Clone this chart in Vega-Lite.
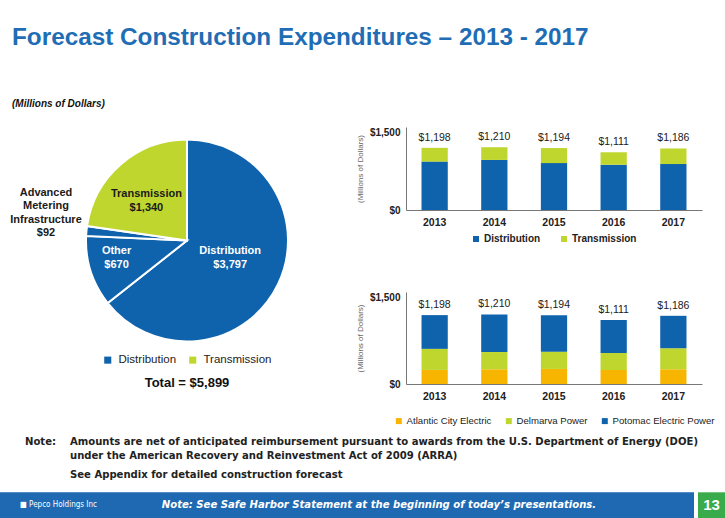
{
  "$schema": "https://vega.github.io/schema/vega-lite/v6.json",
  "padding": {"left": 0, "top": 25, "right": 0, "bottom": 0},
  "bounds": "flush",
  "background": "white",
  "config": {
    "font": "Liberation Sans",
    "view": {"stroke": null},
    "axis": {"labelColor": "#222", "domainColor": "#777", "ticks": false, "grid": false},
    "legend": {"labelColor": "#222", "symbolType": "square", "symbolStrokeWidth": 0, "layout": {"bottom": {"anchor": "middle"}}}
  },
  "title": {
    "text": "Forecast Construction Expenditures – 2013 - 2017",
    "anchor": "start",
    "frame": "group",
    "dx": 12,
    "fontSize": 24.3,
    "font": "Liberation Sans",
    "fontWeight": "bold",
    "color": "#1f6db4",
    "offset": 49.5
  },
  "resolve": {"scale": {"color": "independent"}, "legend": {"color": "independent"}},
  "vconcat": [
    {
      "bounds": "flush",
      "resolve": {"scale": {"color": "independent"}, "legend": {"color": "independent"}},
      "hconcat": [
        {
          "width": 374,
          "height": 227,
          "title": {
            "text": "(Millions  of Dollars)",
            "anchor": "start",
            "frame": "group",
            "dx": 12,
            "fontSize": 10,
            "fontStyle": "italic",
            "fontWeight": "bold",
            "color": "#111",
            "offset": 17.7
          },
          "data": {"values": [
            {"segment": "Distribution", "group": "Distribution", "amount": 3797, "idx": 1, "label": "Distribution\n$3,797"},
            {"segment": "Other", "group": "Distribution", "amount": 670, "idx": 2, "label": "Other\n$670"},
            {"segment": "AMI", "group": "Distribution", "amount": 92, "idx": 3, "label": "Advanced\nMetering\nInfrastructure\n$92"},
            {"segment": "Transmission", "group": "Transmission", "amount": 1340, "idx": 4, "label": "Transmission\n$1,340"}
          ]},
          "encoding": {
            "theta": {"field": "amount", "type": "quantitative", "stack": true},
            "order": {"field": "idx", "type": "quantitative"}
          },
          "layer": [
            {
              "mark": {"type": "arc", "outerRadius": 101, "stroke": "white", "strokeWidth": 2},
              "encoding": {
                "color": {
                  "field": "group", "type": "nominal",
                  "scale": {"domain": ["Distribution", "Transmission"], "range": ["#0f63ad", "#bfd62f"]},
                  "legend": {
                    "orient": "bottom", "direction": "horizontal", "offset": 0,
                    "title": "Total = $5,899", "titleOrient": "bottom", "titleAnchor": "middle",
                    "titleFontSize": 13, "titleFontWeight": "bold", "titleColor": "#111", "titlePadding": 11,
                    "labelFontSize": 11.5, "labelOffset": 5, "symbolSize": 50, "columnPadding": 10
                  }
                }
              }
            },
            {
              "mark": {"type": "text", "radius": 48, "dy": -10, "fontSize": 11, "fontWeight": "bold", "color": "white", "lineBreak": "\n", "lineHeight": 14, "baseline": "middle"},
              "encoding": {"text": {"condition": {"test": "datum.segment === 'Distribution'", "field": "label"}, "value": ""}}
            },
            {
              "mark": {"type": "text", "radius": 74, "dy": -12, "fontSize": 11, "fontWeight": "bold", "color": "white", "lineBreak": "\n", "lineHeight": 14, "baseline": "middle"},
              "encoding": {"text": {"condition": {"test": "datum.segment === 'Other'", "field": "label"}, "value": ""}}
            },
            {
              "mark": {"type": "text", "radius": 62, "fontSize": 11, "fontWeight": "bold", "color": "#1a1a1a", "lineBreak": "\n", "lineHeight": 14, "baseline": "middle"},
              "encoding": {"text": {"condition": {"test": "datum.segment === 'Transmission'", "field": "label"}, "value": ""}}
            },
            {
              "mark": {"type": "text", "radius": 0, "dx": -141, "dy": -48, "fontSize": 11, "fontWeight": "bold", "color": "#1a1a1a", "lineBreak": "\n", "lineHeight": 13.5, "baseline": "middle"},
              "encoding": {
                "text": {"condition": {"test": "datum.segment === 'AMI'", "field": "label"}, "value": ""}
              }
            }
          ]
        },
        {
          "bounds": "flush",
          "resolve": {"scale": {"color": "independent"}, "legend": {"color": "independent"}},
          "vconcat": [
            {
              "width": 296,
              "height": 83,
              "data": {"values": [
                {"year": "2013", "category": "Distribution", "amount": 933},
                {"year": "2013", "category": "Transmission", "amount": 265},
                {"year": "2014", "category": "Distribution", "amount": 965},
                {"year": "2014", "category": "Transmission", "amount": 245},
                {"year": "2015", "category": "Distribution", "amount": 904},
                {"year": "2015", "category": "Transmission", "amount": 290},
                {"year": "2016", "category": "Distribution", "amount": 871},
                {"year": "2016", "category": "Transmission", "amount": 240},
                {"year": "2017", "category": "Distribution", "amount": 886},
                {"year": "2017", "category": "Transmission", "amount": 300}
              ]},
              "encoding": {
                "x": {
                  "field": "year", "type": "ordinal",
                  "scale": {"paddingInner": 0.56, "paddingOuter": 0.26},
                  "axis": {"title": null, "labelAngle": 0, "labelFontSize": 10.5, "labelFontWeight": "bold", "labelPadding": 7}
                }
              },
              "layer": [
                {
                  "mark": {"type": "bar"},
                  "encoding": {
                    "y": {
                      "field": "amount", "type": "quantitative",
                      "scale": {"domain": [0, 1500]},
                      "axis": {
                        "title": "(Millions of Dollars)", "titleFontSize": 8, "titleFontWeight": "normal", "titleColor": "#666", "titlePadding": 5,
                        "values": [0, 500, 1000, 1500], "format": "$,.0f",
                        "labelFontSize": 10, "labelFontWeight": "bold", "labelPadding": 6
                      }
                    },
                    "order": {"field": "category", "type": "nominal", "sort": "ascending"},
                    "color": {
                      "field": "category", "type": "nominal",
                      "scale": {"domain": ["Distribution", "Transmission"], "range": ["#0f63ad", "#bfd62f"]},
                      "legend": {"title": null, "orient": "bottom", "direction": "horizontal", "offset": 6, "labelFontSize": 10, "labelFontWeight": "bold", "symbolSize": 36, "labelOffset": 3, "columnPadding": 18}
                    }
                  }
                },
                {
                  "transform": [{"aggregate": [{"op": "sum", "field": "amount", "as": "total"}], "groupby": ["year"]}],
                  "mark": {"type": "text", "baseline": "bottom", "dy": -5, "fontSize": 10.5, "color": "#1a1a1a"},
                  "encoding": {
                    "y": {"field": "total", "type": "quantitative"},
                    "text": {"field": "total", "type": "quantitative", "format": "$,.0f"}
                  }
                }
              ]
            },
            {
              "width": 296,
              "height": 92,
              "data": {"values": [
                {"year": "2013", "company": "Atlantic City Electric", "amount": 245},
                {"year": "2013", "company": "Delmarva Power", "amount": 366},
                {"year": "2013", "company": "Potomac Electric Power", "amount": 587},
                {"year": "2014", "company": "Atlantic City Electric", "amount": 256},
                {"year": "2014", "company": "Delmarva Power", "amount": 300},
                {"year": "2014", "company": "Potomac Electric Power", "amount": 654},
                {"year": "2015", "company": "Atlantic City Electric", "amount": 262},
                {"year": "2015", "company": "Delmarva Power", "amount": 300},
                {"year": "2015", "company": "Potomac Electric Power", "amount": 632},
                {"year": "2016", "company": "Atlantic City Electric", "amount": 245},
                {"year": "2016", "company": "Delmarva Power", "amount": 295},
                {"year": "2016", "company": "Potomac Electric Power", "amount": 571},
                {"year": "2017", "company": "Atlantic City Electric", "amount": 256},
                {"year": "2017", "company": "Delmarva Power", "amount": 366},
                {"year": "2017", "company": "Potomac Electric Power", "amount": 564}
              ]},
              "encoding": {
                "x": {
                  "field": "year", "type": "ordinal",
                  "scale": {"paddingInner": 0.56, "paddingOuter": 0.26},
                  "axis": {"title": null, "labelAngle": 0, "labelFontSize": 10.5, "labelFontWeight": "bold", "labelPadding": 7}
                }
              },
              "layer": [
                {
                  "mark": {"type": "bar"},
                  "encoding": {
                    "y": {
                      "field": "amount", "type": "quantitative",
                      "scale": {"domain": [0, 1500]},
                      "axis": {
                        "title": "(Millions of Dollars)", "titleFontSize": 8, "titleFontWeight": "normal", "titleColor": "#666", "titlePadding": 5,
                        "values": [0, 500, 1000, 1500], "format": "$,.0f",
                        "labelFontSize": 10, "labelFontWeight": "bold", "labelPadding": 6
                      }
                    },
                    "order": {"field": "company", "type": "nominal", "sort": "ascending"},
                    "color": {
                      "field": "company", "type": "nominal",
                      "scale": {"domain": ["Atlantic City Electric", "Delmarva Power", "Potomac Electric Power"], "range": ["#f7b500", "#bfd62f", "#0f63ad"]},
                      "legend": {"title": null, "orient": "bottom", "direction": "horizontal", "offset": 14, "labelFontSize": 9.6, "symbolSize": 36, "labelOffset": 3, "columnPadding": 12}
                    }
                  }
                },
                {
                  "transform": [{"aggregate": [{"op": "sum", "field": "amount", "as": "total"}], "groupby": ["year"]}],
                  "mark": {"type": "text", "baseline": "bottom", "dy": -5, "fontSize": 10.5, "color": "#1a1a1a"},
                  "encoding": {
                    "y": {"field": "total", "type": "quantitative"},
                    "text": {"field": "total", "type": "quantitative", "format": "$,.0f"}
                  }
                }
              ]
            }
          ],
          "spacing": 82
        }
      ],
      "spacing": 32
    },
    {
      "bounds": "flush",
      "hconcat": [
        {
          "bounds": "flush",
          "hconcat": [
            {
              "width": 117,
              "height": 26,
              "view": {"fill": "#1e69b1", "stroke": null},
              "title": {
                "text": "Note:",
                "anchor": "start", "frame": "group", "dx": 25, "offset": 45.5,
                "font": "Liberation Sans Narrow, DejaVu Sans Condensed, Liberation Sans",
                "fontSize": 11.2, "fontWeight": "bold", "color": "#222"
              },
              "data": {"values": [{}]},
              "mark": {"type": "text", "fontSize": 8, "color": "white", "baseline": "middle", "font": "DejaVu Sans Condensed"},
              "encoding": {"text": {"value": "■ Pepco Holdings Inc"}}
            },
            {
              "width": 524,
              "height": 26,
              "view": {"fill": "#1e69b1", "stroke": null},
              "title": {
                "text": ["Amounts are net of anticipated reimbursement pursuant to awards from the U.S. Department of Energy (DOE)", "under the American Recovery and Reinvestment Act of 2009 (ARRA)"],
                "subtitle": "See Appendix for detailed construction forecast",
                "anchor": "start", "frame": "group", "dx": -47, "offset": 12,
                "font": "Liberation Sans Narrow, DejaVu Sans Condensed, Liberation Sans",
                "fontSize": 11.2, "fontWeight": "bold", "color": "#222", "lineHeight": 14,
                "subtitleFont": "Liberation Sans Narrow, DejaVu Sans Condensed, Liberation Sans",
                "subtitleFontSize": 11.2, "subtitleFontWeight": "bold", "subtitleColor": "#222", "subtitlePadding": 8
              },
              "data": {"values": [{}]},
              "mark": {"type": "text", "fontSize": 11.2, "fontWeight": "bold", "fontStyle": "italic", "color": "white", "baseline": "middle", "font": "Liberation Sans Narrow, DejaVu Sans Condensed, Liberation Sans"},
              "encoding": {"text": {"value": "Note:  See Safe Harbor Statement at the beginning of today’s presentations."}}
            },
            {
              "width": 53,
              "height": 26,
              "view": {"fill": "#1e69b1", "stroke": null},
              "data": {"values": [{}]},
              "mark": {"type": "text"},
              "encoding": {"text": {"value": ""}}
            }
          ],
          "spacing": 0
        },
        {
          "width": 27,
          "height": 26,
          "view": {"fill": "#3aab4a", "stroke": null},
          "data": {"values": [{}]},
          "mark": {"type": "text", "fontSize": 15, "fontWeight": "bold", "color": "white", "baseline": "middle"},
          "encoding": {"text": {"value": "13"}}
        }
      ],
      "spacing": 698
    }
  ],
  "spacing": 365.3
}
